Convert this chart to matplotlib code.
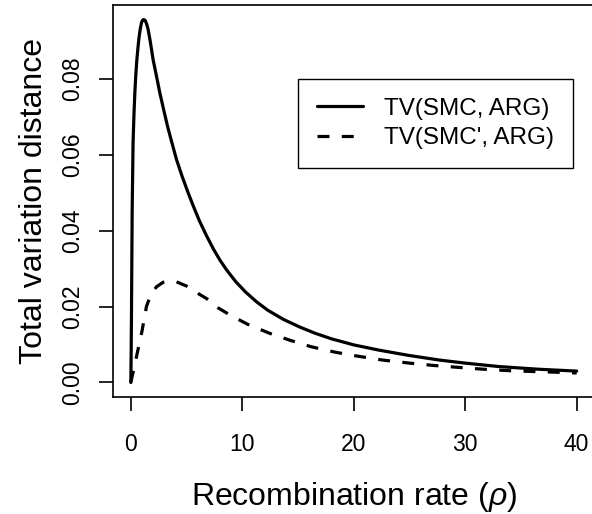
import matplotlib
matplotlib.use("Agg")
import matplotlib.pyplot as plt

# ---- data ----
rho_smc = [0, 0.03, 0.06, 0.12, 0.2, 0.28, 0.36, 0.45, 0.54, 0.65, 0.75, 0.85,
           0.96, 1.05, 1.17, 1.3, 1.42, 1.55, 1.75, 2.0, 2.3, 2.6, 2.95, 3.29,
           3.7, 4.1, 4.6, 5.15, 5.6, 6.15, 6.8, 7.4, 8.0, 8.58, 9.4, 10.3, 11.3,
           12.3, 13.7, 15.16, 16.5, 18, 20, 22.3, 25, 27.7, 30, 33, 36.5, 40]
tv_smc = [0, 0.008, 0.019, 0.0454, 0.063, 0.0705, 0.0763, 0.0812, 0.085, 0.0885,
          0.0912, 0.0932, 0.0948, 0.0954, 0.0956, 0.0953, 0.0944, 0.0930, 0.0897,
          0.0850, 0.0807, 0.0763, 0.0718, 0.0675, 0.0630, 0.0587, 0.0543, 0.0499,
          0.0465, 0.0426, 0.0386, 0.0352, 0.0322, 0.0297, 0.0266, 0.0238, 0.0212,
          0.0190, 0.0166, 0.0146, 0.0130, 0.0115, 0.0099, 0.0085, 0.0071, 0.0059,
          0.0051, 0.0042, 0.0035, 0.0030]

rho_smcp = [0, 0.5, 1.0, 1.4, 1.8, 2.3, 2.9, 3.5, 4.1, 5.0, 6.0, 6.8, 7.8, 9.0,
            10.5, 12.5, 14.3, 16.2, 18.3, 20, 22.6, 25, 27.1, 29.3, 31.6, 34, 36,
            38.2, 40]
tv_smcp = [0, 0.0067, 0.0135, 0.0200, 0.0232, 0.0252, 0.0264, 0.0267, 0.0265,
           0.0254, 0.0235, 0.0221, 0.0197, 0.0176, 0.0153, 0.0129, 0.0111, 0.0094,
           0.0080, 0.0071, 0.0059, 0.0051, 0.0045, 0.0040, 0.0035, 0.0031, 0.0029,
           0.0027, 0.0025]

xticks = [0, 10, 20, 30, 40]
yticks = [0.00, 0.02, 0.04, 0.06, 0.08]
labels = ["TV(SMC, ARG)", "TV(SMC', ARG)"]
xlabel = r"Recombination rate ($\rho$)"
ylabel = "Total variation distance"

# ---- style ----
plt.rcParams["font.family"] = ["Liberation Sans", "DejaVu Sans"]
plt.rcParams["mathtext.fontset"] = "custom"
plt.rcParams["mathtext.rm"] = "Liberation Sans"
plt.rcParams["mathtext.it"] = "Liberation Sans:italic"
plt.rcParams["lines.scale_dashes"] = False

W, H, DPI = 592, 514, 100
fig = plt.figure(figsize=(W / DPI, H / DPI), dpi=DPI)
ax = fig.add_axes([113 / W, 1 - 397 / H, (594.5 - 113) / W, (397 - 5) / H])

ax.plot(rho_smc, tv_smc, color="black", lw=2.3, solid_capstyle="round",
        solid_joinstyle="round", label=labels[0])
ax.plot(rho_smcp, tv_smcp, color="black", lw=2.3, linestyle=(0, (8.6, 8.9)),
        dash_capstyle="butt", dash_joinstyle="round", label=labels[1])

ax.margins(x=0.04, y=0.04)
ax.set_xticks(xticks)
ax.set_yticks(yticks)
ax.set_yticklabels([f"{v:.2f}" for v in yticks])
ax.set_xticklabels([str(v) for v in xticks])

for s in ax.spines.values():
    s.set_linewidth(1.2)
    s.set_color("black")

ax.tick_params(axis="both", direction="out", length=10, width=1.2,
               labelsize=16.5, colors="black")
ax.tick_params(axis="x", pad=16)
ax.tick_params(axis="y", pad=10.5)
for lbl in ax.get_yticklabels():
    lbl.set_rotation(90)
    lbl.set_va("center")

fig.text(353.7 / W, 1 - 505 / H, xlabel, fontsize=23, ha="center", va="baseline")
fig.text(42 / W, 1 - 201 / H, ylabel, fontsize=23, ha="center", va="baseline",
         rotation=90, rotation_mode="anchor")

leg = ax.legend(loc="upper left", bbox_to_anchor=(298.3 / W, 1 - 79 / H),
                bbox_transform=fig.transFigure, fontsize=17.5, frameon=True,
                fancybox=False, shadow=False, borderpad=0.77, labelspacing=0.30,
                handlelength=1.9, handletextpad=0.85, borderaxespad=0)
leg.get_frame().set_edgecolor("black")
leg.get_frame().set_linewidth(1.0)
leg.get_frame().set_alpha(None)

fig.savefig("out.png", dpi=DPI)
